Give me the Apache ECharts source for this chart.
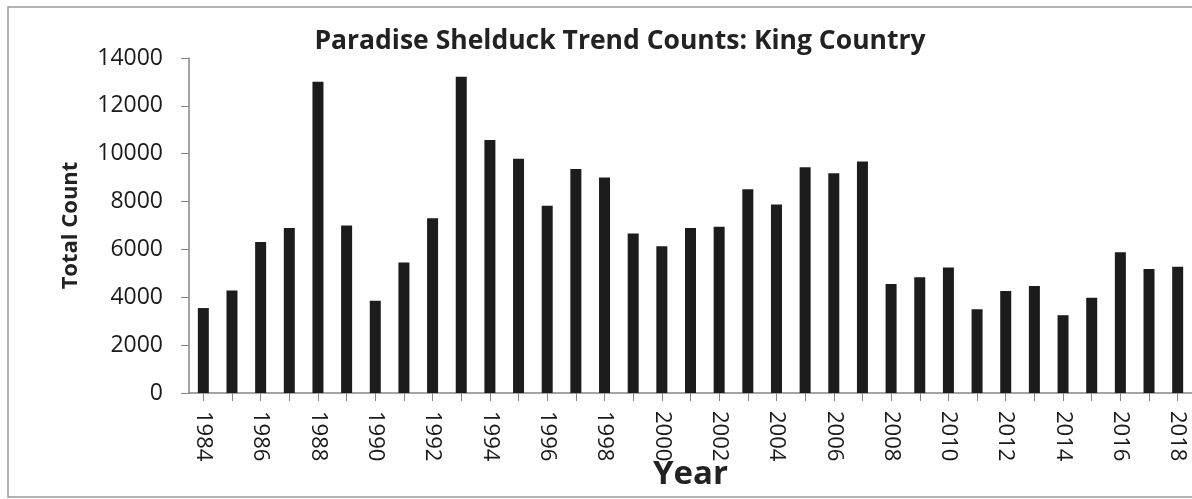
<!DOCTYPE html>
<html>
<head>
<meta charset="utf-8">
<script src="https://cdn.jsdelivr.net/npm/echarts@6/dist/echarts.min.js"></script>
<style>
html,body{margin:0;padding:0;background:#fff;}
#chart{width:1192px;height:499px;}
</style>
</head>
<body>
<div id="chart"></div>
<script>
const years = ['1984','1985','1986','1987','1988','1989','1990','1991','1992','1993','1994','1995','1996','1997','1998','1999','2000','2001','2002','2003','2004','2005','2006','2007','2008','2009','2010','2011','2012','2013','2014','2015','2016','2017','2018'];
const counts = [3550,4280,6310,6900,13010,7000,3860,5450,7300,13220,10570,9790,7830,9360,9010,6670,6130,6900,6950,8520,7880,9430,9180,9670,4555,4835,5240,3500,4265,4470,3250,3985,5880,5185,5280];
const yTicks = [0,2000,4000,6000,8000,10000,12000,14000];

const chart = echarts.init(document.getElementById('chart'));
const font = '"Open Sans", "Liberation Sans", sans-serif';
chart.setOption({
  animation: false,
  backgroundColor: '#fff',
  title: {
    text: 'Paradise Shelduck Trend Counts: King Country',
    left: 615, top: 23, textAlign: 'center',
    textStyle: {fontFamily: font, fontWeight: 'bold', fontSize: 26.5, color: '#222'}
  },
  graphic: [{
    type: 'rect', shape: {x: 8, y: 7, width: 1200, height: 490},
    style: {fill: 'none', stroke: '#9a9a9a', lineWidth: 1.5}, silent: true
  }],
  grid: {left: 189, right: 0, top: 58, bottom: 106, outerBoundsMode: 'none', containLabel: false},
  xAxis: {
    type: 'category', data: years,
    name: 'Year', nameLocation: 'middle', nameGap: 65, nameMoveOverlap: false,
    nameTextStyle: {fontFamily: font, fontWeight: 'bold', fontSize: 33, color: '#222'},
    axisLine: {lineStyle: {color: '#868686', width: 1.5}},
    axisTick: {show: true, interval: 0, alignWithLabel: true, length: 8, lineStyle: {color: '#868686'}},
    axisLabel: {interval: 1, rotate: -90, margin: 18, fontFamily: font, fontSize: 22, color: '#1a1a1a'}
  },
  yAxis: {
    type: 'value', min: 0, max: 14000, interval: 2000,
    name: 'Total Count', nameLocation: 'middle', nameGap: 107, nameRotate: 90, nameMoveOverlap: false,
    nameTextStyle: {fontFamily: font, fontWeight: 'bold', fontSize: 22, color: '#222'},
    axisLine: {show: true, lineStyle: {color: '#868686', width: 1.5}},
    axisTick: {show: true, length: 8, lineStyle: {color: '#868686'}},
    splitLine: {show: false},
    axisLabel: {margin: 26, fontFamily: font, fontSize: 23, color: '#1a1a1a',
      formatter: v => yTicks.includes(v) ? String(v) : ''}
  },
  series: [{
    type: 'bar', data: counts, barWidth: 11,
    itemStyle: {color: '#1c1c1c'}
  }]
});
</script>
</body>
</html>
